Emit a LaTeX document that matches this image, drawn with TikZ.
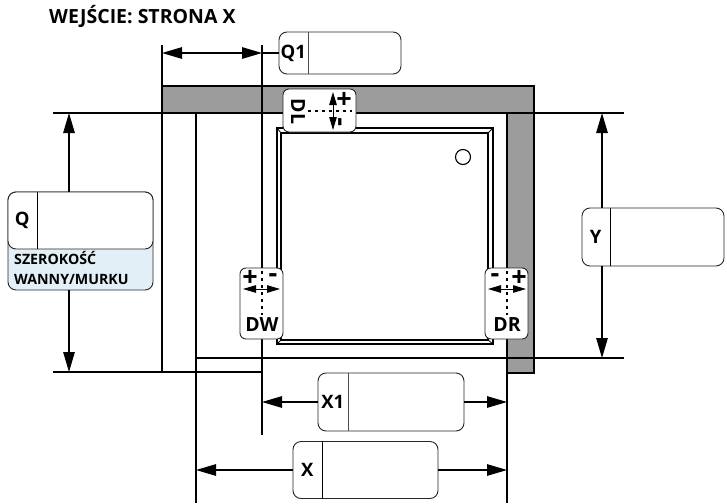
\documentclass[tikz,border=0pt]{standalone}
\usepackage{fontspec}
\setmainfont{Open Sans}
\usetikzlibrary{arrows.meta}
\definecolor{wallgrey}{HTML}{9C9C9C}
\definecolor{noteblue}{HTML}{E3EFF7}
\begin{document}
\begin{tikzpicture}[x=1pt, y=-1pt,
	line/.style={draw=black, line width=1.1pt},
	thick line/.style={draw=black, line width=1.5pt},
	dim/.style={line width=1.2pt, -{Triangle[length=20pt, width=11.5pt]}},
	smalldim/.style={line width=1pt, {Triangle[length=13pt, width=7.5pt]}-{Triangle[length=13pt, width=7.5pt]}},
	dots/.style={line width=2.4pt, dash pattern=on 3pt off 4pt},
	valbox/.style={draw=black!85, line width=0.9pt, fill=white, rounded corners=8pt, inner sep=0pt},
	namecell/.style={inner sep=0pt, font=\bfseries\fontsize{18.5pt}{18.5pt}\selectfont},
	tolbox/.style={valbox, rounded corners=6pt, minimum width=43pt, minimum height=71pt},
	tolname/.style={inner sep=0pt, font=\bfseries\fontsize{19.5pt}{19.5pt}\selectfont},
	sign/.style={inner sep=0pt, font=\bfseries\fontsize{27pt}{27pt}\selectfont}]
	\useasboundingbox (0,0) rectangle (727,503);
	\node[anchor=west, inner sep=0pt, font=\bfseries\fontsize{19.5pt}{19.5pt}\selectfont] (title) at (49,16.5) {WEJŚCIE: STRONA X};
	\fill[wallgrey] (162,86) rectangle (534,113);
	\fill[wallgrey] (507,113) rectangle (534,373);
	\draw[line] (162,86) -- (534,86) -- (534,373) -- (507,373);
	\draw[line] (162,45) -- (162,373);
	\draw[line] (262,45) -- (262,435);
	\draw[thick line] (196,113) -- (196,503);
	\draw[line] (507,113) -- (507,503);
	\draw[line] (53,113) -- (624,113);
	\draw[line] (196,358) -- (624,358);
	\draw[line] (53,372) -- (262,372);
	\draw[line] (277,128) rectangle (493,344);
	\draw[line] (281,133) rectangle (488,340);
	\draw[line width=0.8pt] (277,128) -- (281,133) (493,128) -- (488,133) (277,344) -- (281,340) (493,344) -- (488,340);
	\draw[line] (463,157) circle (7.5);

	\node[valbox, minimum width=122pt, minimum height=42pt] (Q1) at (340,53) {};
	\node[namecell, anchor=west, minimum width=29pt, minimum height=42pt] (Q1n) at (Q1.west) {Q1};
	\draw[line width=0.8pt, black!70] (Q1n.north east) -- (Q1n.south east);
	\coordinate (Q1a) at (262,53);
	\coordinate (Q1b) at (162,53);
	\draw[line] (Q1.west) -- (Q1a);
	\draw[line width=1.2pt, {Triangle[length=20pt, width=11.5pt]}-{Triangle[length=20pt, width=11.5pt]}] (Q1a) -- (Q1b);

	\node[valbox, fill=noteblue, minimum width=145pt, minimum height=98pt] (Q) at (80.5,241) {};
	\node[valbox, anchor=north, minimum width=145pt, minimum height=57pt] (Qv) at (Q.north) {};
	\node[namecell, anchor=west, minimum width=29pt, minimum height=57pt] (Qn) at (Qv.west) {Q};
	\draw[line width=0.8pt] (Qn.north east) -- (Qn.south east);
	\node[anchor=north west, inner sep=0pt, align=left, font=\bfseries\fontsize{14.2pt}{20pt}\selectfont] (Qt) at (14,251) {SZEROKOŚĆ\\WANNY/MURKU};
	\coordinate (Qa) at (69,113);
	\coordinate (Qb) at (69,372);
	\draw[dim] (Q.north -| Qa) -- (Qa);
	\draw[dim] (Q.south -| Qb) -- (Qb);

	\node[valbox, minimum width=142pt, minimum height=58pt] (Y) at (653,237) {};
	\node[namecell, anchor=west, minimum width=28pt, minimum height=58pt] (Yn) at (Y.west) {Y};
	\draw[line width=0.8pt] (Yn.north east) -- (Yn.south east);
	\coordinate (Ya) at (602,113);
	\coordinate (Yb) at (602,358);
	\draw[dim] (Y.north -| Ya) -- (Ya);
	\draw[dim] (Y.south -| Yb) -- (Yb);

	\node[valbox, minimum width=146pt, minimum height=58pt] (X1) at (391,402) {};
	\node[namecell, anchor=west, minimum width=30pt, minimum height=58pt] (X1n) at (X1.west) {X1};
	\draw[line width=0.8pt, black!70] (X1n.north east) -- (X1n.south east);
	\coordinate (X1a) at (262,402);
	\coordinate (X1b) at (507,402);
	\draw[dim] (X1.west) -- (X1a);
	\draw[dim] (X1.east) -- (X1b);

	\node[valbox, minimum width=145pt, minimum height=57pt] (X) at (365.5,470) {};
	\node[namecell, anchor=west, minimum width=29pt, minimum height=57pt] (Xn) at (X.west) {X};
	\draw[line width=0.8pt] (Xn.north east) -- (Xn.south east);
	\coordinate (Xa) at (196,470);
	\coordinate (Xb) at (507,470);
	\draw[dim] (X.west) -- (Xa);
	\draw[dim] (X.east) -- (Xb);

	\node[tolbox, minimum width=73pt, minimum height=43pt] (DL) at (319.5,110.5) {};
	\node[tolname, rotate=-90] (DLn) at (298,111.5) {DL};
	\node[sign] (DLp) at (344,100) {+};
	\node[sign, rotate=90] (DLm) at (343,122) {-};
	\coordinate (DLa) at (333,92);
	\coordinate (DLb) at (333,130);
	\coordinate (DLc) at (308,111);
	\coordinate (DLd) at (352,111);
	\draw[smalldim] (DLa) -- (DLb);
	\draw[dots] (DLc) -- (DLd);

	\node[tolbox] (DW) at (261.5,303.5) {};
	\node[tolname] (DWn) at (262,325) {DW};
	\node[sign] (DWp) at (250,278) {+};
	\node[sign] (DWm) at (273,278) {-};
	\coordinate (DWa) at (243,289);
	\coordinate (DWb) at (280,289);
	\coordinate (DWc) at (262,271);
	\coordinate (DWd) at (262,315);
	\draw[smalldim] (DWa) -- (DWb);
	\draw[dots] (DWc) -- (DWd);

	\node[tolbox] (DR) at (506.5,303.5) {};
	\node[tolname] (DRn) at (507,325) {DR};
	\node[sign] (DRm) at (495,278) {-};
	\node[sign] (DRp) at (519,278) {+};
	\coordinate (DRa) at (488,289);
	\coordinate (DRb) at (526,289);
	\coordinate (DRc) at (507,271);
	\coordinate (DRd) at (507,315);
	\draw[smalldim] (DRa) -- (DRb);
	\draw[dots] (DRc) -- (DRd);
\end{tikzpicture}
\end{document}
